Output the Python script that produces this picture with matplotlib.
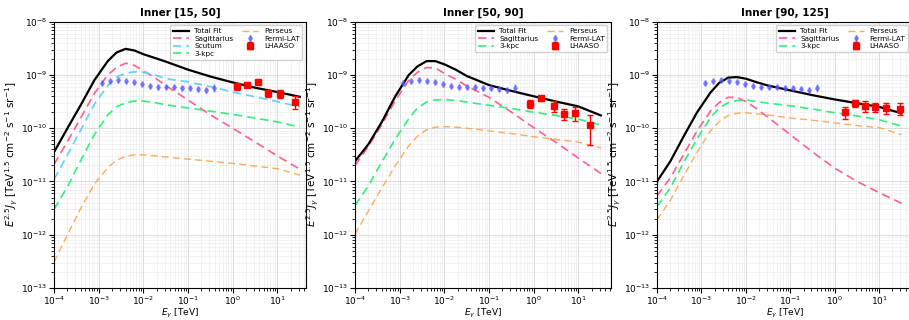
import numpy as np
import matplotlib
matplotlib.use("Agg")
import matplotlib.pyplot as plt

# ---------------- data ----------------
titles = ["Inner [15, 50]", "Inner [50, 90]", "Inner [90, 125]"]

# model energy grid [TeV]
E_model = [1e-4, 2e-4, 4e-4, 8e-4, 1.6e-3, 2.5e-3, 4e-3, 6.3e-3, 1e-2, 1.8e-2,
           3.2e-2, 0.1, 0.32, 1.0, 3.2, 10.0, 32.0]

# model curves, log10 of E^2.5 J [TeV^1.5 cm^-2 s^-1 sr^-1]
total_p1 = [-10.45, -10.0, -9.56, -9.10, -8.74, -8.58, -8.51, -8.54, -8.61, -8.68,
            -8.75, -8.90, -9.03, -9.14, -9.24, -9.32, -9.41]
sag_p1 = [-10.68, -10.25, -9.80, -9.35, -9.00, -8.86, -8.78, -8.82, -8.92, -9.05,
          -9.20, -9.47, -9.75, -10.00, -10.26, -10.52, -10.77]
scu_p1 = [-10.96, -10.50, -10.03, -9.55, -9.20, -9.04, -8.97, -8.94, -8.95, -9.00,
          -9.07, -9.13, -9.22, -9.32, -9.41, -9.50, -9.60]
kpc_p1 = [-11.52, -11.10, -10.60, -10.12, -9.75, -9.60, -9.52, -9.49, -9.49, -9.52,
          -9.56, -9.62, -9.68, -9.74, -9.81, -9.88, -9.98]
per_p1 = [-12.51, -12.00, -11.50, -11.05, -10.74, -10.60, -10.53, -10.50, -10.50, -10.52,
          -10.54, -10.58, -10.62, -10.66, -10.71, -10.76, -10.88]

total_p2 = [-10.62, -10.30, -9.88, -9.40, -9.00, -8.84, -8.74, -8.74, -8.80, -8.90,
            -9.02, -9.19, -9.30, -9.40, -9.50, -9.59, -9.76]
sag_p2 = [-10.70, -10.34, -9.93, -9.48, -9.10, -8.95, -8.86, -8.87, -8.97, -9.08,
          -9.21, -9.42, -9.70, -9.99, -10.27, -10.56, -10.85]
kpc_p2 = [-11.45, -11.08, -10.63, -10.20, -9.82, -9.62, -9.51, -9.47, -9.46, -9.48,
          -9.51, -9.57, -9.63, -9.70, -9.76, -9.83, -9.94]
per_p2 = [-11.99, -11.55, -11.12, -10.70, -10.33, -10.15, -10.03, -9.98, -9.97, -9.98,
          -10.00, -10.05, -10.10, -10.16, -10.21, -10.26, -10.37]

total_p3 = [-11.00, -10.62, -10.15, -9.70, -9.33, -9.15, -9.05, -9.04, -9.07, -9.14,
            -9.20, -9.29, -9.38, -9.46, -9.53, -9.60, -9.72]
sag_p3 = [-11.27, -10.93, -10.49, -10.05, -9.68, -9.52, -9.42, -9.42, -9.50, -9.64,
          -9.80, -10.12, -10.45, -10.75, -11.00, -11.21, -11.41]
kpc_p3 = [-11.47, -11.12, -10.64, -10.20, -9.80, -9.62, -9.52, -9.48, -9.47, -9.50,
          -9.53, -9.58, -9.64, -9.71, -9.77, -9.84, -9.96]
per_p3 = [-11.72, -11.35, -10.89, -10.45, -10.05, -9.88, -9.76, -9.72, -9.71, -9.73,
          -9.75, -9.81, -9.85, -9.90, -9.95, -9.99, -10.12]

# Fermi-LAT points (same in all panels)
fermi_E = [1.21e-3, 1.83e-3, 2.76e-3, 4.17e-3, 6.3e-3, 9.5e-3, 1.44e-2, 2.17e-2,
           3.3e-2, 4.97e-2, 7.5e-2, 0.113, 0.171, 0.258, 0.39]
fermi_F = [7.05e-10, 7.57e-10, 7.9e-10, 7.57e-10, 7.26e-10, 6.65e-10, 6.28e-10, 6.02e-10,
           5.85e-10, 5.93e-10, 5.77e-10, 5.69e-10, 5.52e-10, 5.14e-10, 5.77e-10]
fermi_err = [0.6e-10, 0.6e-10, 0.6e-10, 0.6e-10, 0.6e-10, 0.55e-10, 0.5e-10, 0.5e-10,
             0.5e-10, 0.5e-10, 0.5e-10, 0.5e-10, 0.5e-10, 0.5e-10, 0.9e-10]

# LHAASO points
lh_E_p1 = [1.25, 2.13, 3.76, 6.2, 11.5, 24.4]
lh_F_p1 = [6.1e-10, 6.6e-10, 7.5e-10, 4.6e-10, 4.45e-10, 3.1e-10]
lh_err_p1 = [0.8e-10, 0.6e-10, 0.6e-10, 0.7e-10, 0.8e-10, 0.85e-10]

lh_E_p2 = [0.83, 1.49, 2.85, 4.7, 8.6, 18.0]
lh_F_p2 = [2.9e-10, 3.7e-10, 2.66e-10, 1.86e-10, 1.94e-10, 1.14e-10]
lh_err_p2 = [0.5e-10, 0.4e-10, 0.65e-10, 0.45e-10, 0.55e-10, 0.65e-10]

lh_E_p3 = [1.73, 2.86, 4.8, 7.9, 14.0, 29.4]
lh_F_p3 = [2.0e-10, 2.98e-10, 2.66e-10, 2.5e-10, 2.4e-10, 2.34e-10]
lh_err_p3 = [0.5e-10, 0.45e-10, 0.6e-10, 0.5e-10, 0.55e-10, 0.6e-10]

panels = [
    dict(total=total_p1, sag=sag_p1, scu=scu_p1, kpc=kpc_p1, per=per_p1,
         lhE=lh_E_p1, lhF=lh_F_p1, lhErr=lh_err_p1),
    dict(total=total_p2, sag=sag_p2, scu=None, kpc=kpc_p2, per=per_p2,
         lhE=lh_E_p2, lhF=lh_F_p2, lhErr=lh_err_p2),
    dict(total=total_p3, sag=sag_p3, scu=None, kpc=kpc_p3, per=per_p3,
         lhE=lh_E_p3, lhF=lh_F_p3, lhErr=lh_err_p3),
]

# ---------------- layout ----------------
W, H = 909, 320
axes_px = [(54, 306), (355, 611), (657, 912)]
xmax = [44, 54, 55]
top_px, bot_px = 21.7, 288

c_sag = "#ff5f8a"
c_scu = "#5fd0ff"
c_kpc = "#2ef07a"
c_per = "#ffaa5a"

fig = plt.figure(figsize=(W / 100, H / 100), dpi=100)

E = np.array(E_model)
for i, p in enumerate(panels):
    l, r = axes_px[i]
    ax = fig.add_axes([l / W, 1 - bot_px / H, (r - l) / W, (bot_px - top_px) / H])
    ax.plot(E, 10 ** np.array(p["total"]), color="black", lw=1.6, label="Total Fit", zorder=5)
    ax.plot(E, 10 ** np.array(p["sag"]), color=c_sag, lw=1.2, ls=(0, (5, 3)), label="Sagittarius")
    if p["scu"] is not None:
        ax.plot(E, 10 ** np.array(p["scu"]), color=c_scu, lw=1.2, ls=(0, (5, 3)), label="Scutum")
    ax.plot(E, 10 ** np.array(p["kpc"]), color=c_kpc, lw=1.2, ls=(0, (5, 3)), label="3-kpc")
    ax.plot(E, 10 ** np.array(p["per"]), color=c_per, lw=1.0, ls=(0, (5, 3)), label="Perseus")
    ax.errorbar(fermi_E, fermi_F, yerr=fermi_err, fmt="d", color="#5555ff", ms=3,
                alpha=0.6, elinewidth=1, capsize=0, label="Fermi-LAT", zorder=6)
    ax.errorbar(p["lhE"], p["lhF"], yerr=p["lhErr"], fmt="s", color="red", ms=4,
                elinewidth=1, capsize=2, label="LHAASO", zorder=7)
    ax.set_xscale("log")
    ax.set_yscale("log")
    ax.set_xlim(1e-4, xmax[i])
    ax.set_ylim(1e-13, 1e-8)
    ax.grid(True, which="major", color="#cccccc", lw=0.6, alpha=0.8)
    ax.grid(True, which="minor", color="#e4e4e4", lw=0.4, alpha=0.8)
    ax.tick_params(labelsize=6.5, which="both", pad=1.5)
    ax.set_title(titles[i], fontsize=7.5, fontweight="bold", pad=4)
    ax.set_xlabel(r"$E_\gamma$ [TeV]", fontsize=6.5, labelpad=-0.5)
    ax.set_ylabel(r"$E^{2.5}J_\gamma$ [TeV$^{1.5}$ cm$^{-2}$ s$^{-1}$ sr$^{-1}$]", fontsize=7.5, labelpad=0.5)
    ax.legend(loc="upper right", ncol=2, fontsize=5.2, handlelength=2.2, columnspacing=1.2,
              labelspacing=0.2, borderpad=0.4, framealpha=0.9)

fig.savefig("out.png", dpi=100)
